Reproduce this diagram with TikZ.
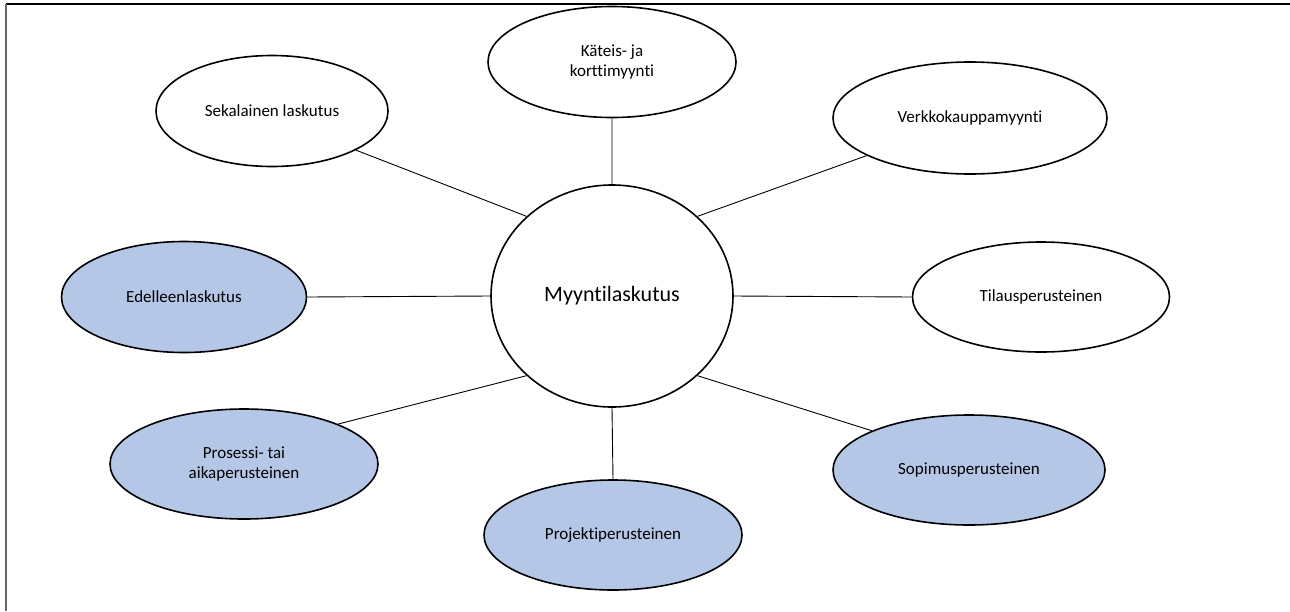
\documentclass[tikz,border=0pt]{standalone}
\usepackage{fontspec}
\setmainfont[Ligatures=NoCommon]{Carlito}
\usepackage{tikz}
\usetikzlibrary{shapes.geometric}
\definecolor{lightblue}{RGB}{180,199,231}

\begin{document}
\begin{tikzpicture}[x=0.5pt,y=-0.5pt,
		bubble/.style={ellipse,draw=black,line width=0.8pt,inner sep=0pt,
			minimum width=#1,minimum height=55.5pt,align=center,
			font=\fontsize{8.5}{10}\selectfont},
		bluebubble/.style={bubble=#1,fill=lightblue},
		spoke/.style={draw=black,line width=0.45pt}]
		\useasboundingbox (0,0) rectangle (1290,611);
		\draw[line width=0.75pt] (6,4) -- (1290,4);
		\draw[line width=1pt,black!60] (6,4) -- (6,611);
		
		\node[bubble=121pt,minimum height=111pt,font=\fontsize{11}{13}\selectfont]
			(main) at (612,296) {Myyntilaskutus};
		
		\node[bubble=124pt]  (kateis)   at (612,62)  {Käteis- ja\\korttimyynti};
		\node[bubble=116pt]  (sekal)    at (272,111) {Sekalainen laskutus};
		\node[bubble=137pt,minimum height=56pt] (verkko) at (970,118) {Verkkokauppamyynti};
		\node[bluebubble=122.5pt] (edell)    at (184,297) {Edelleenlaskutus};
		\node[bubble=128.5pt,minimum height=55pt] (tilaus) at (1041,297) {Tilausperusteinen};
		\node[bluebubble=134pt,minimum height=55pt] (prosessi) at (244,464) {Prosessi- tai\\aikaperusteinen};
		\node[bluebubble=136pt,minimum height=55pt] (sopimus)  at (969,470) {Sopimusperusteinen};
		\node[bluebubble=129pt,minimum height=55pt] (projekti) at (613,535) {Projektiperusteinen};
		
		\path[spoke]
		(main.90) -- (kateis.270)
		(main.137) -- (sekal.-25)
		(main.43) -- (verkko.200)
		(main.180) -- (edell.0)
		(main.0) -- (tilaus.180)
		(main.223) -- (prosessi.23)
		(main.-43) -- (sopimus.158)
		(main.270) -- (projekti.90);
\end{tikzpicture}
\end{document}
